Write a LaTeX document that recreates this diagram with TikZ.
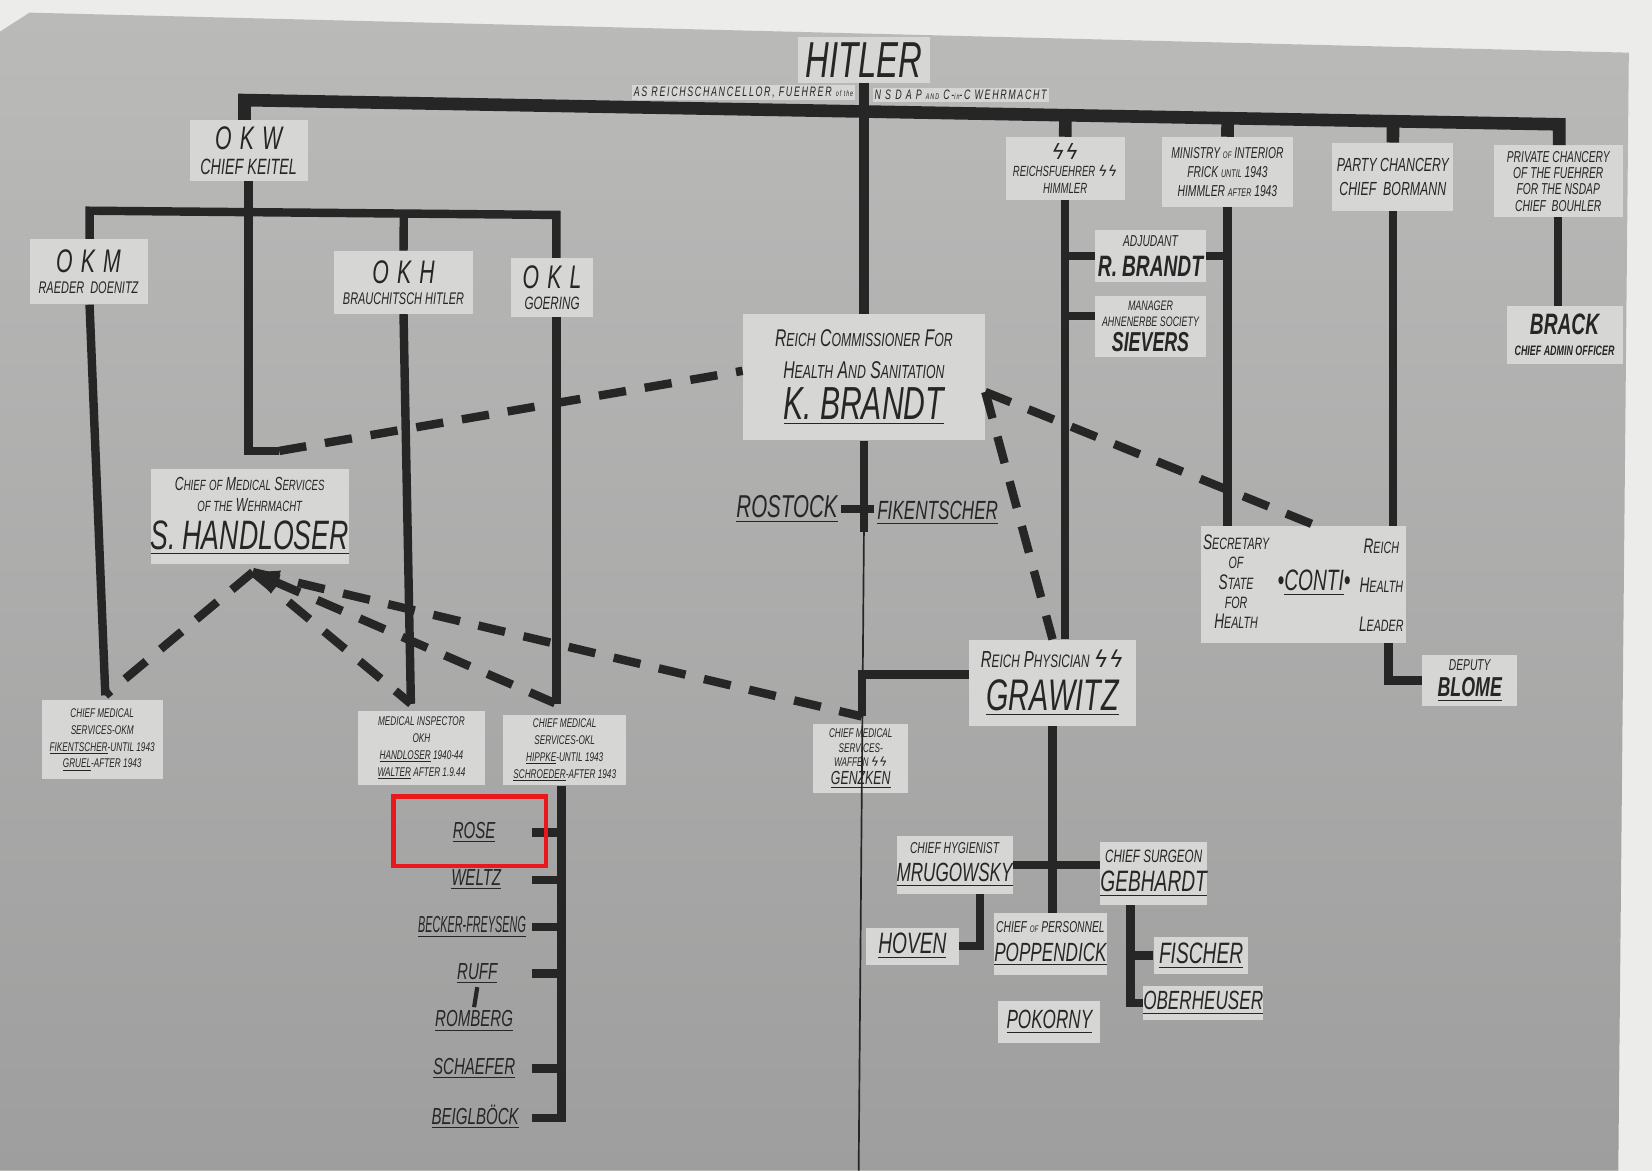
\documentclass[tikz,border=0pt]{standalone}
\usepackage{amsmath}
\usepackage{graphicx}
\usepackage{fontspec}
\usepackage{tikz}
\usetikzlibrary{calc,arrows.meta}
\setmainfont{Liberation Sans}
\newfontfamily\hand[FakeStretch=0.65]{Liberation Sans}
\newfontfamily\runes{DejaVu Sans}
\newcommand{\hw}[2]{\hand\itshape\fontsize{#1}{#2}\selectfont}
\newcommand{\capsm}[2]{#1\scalebox{0.78}{#2}}
\newcommand{\SSr}{{\runes ϟϟ}}
\definecolor{margin}{RGB}{236,236,234}
\definecolor{sheetA}{RGB}{186,186,185}
\definecolor{sheetB}{RGB}{158,158,158}
\definecolor{paper}{RGB}{214,214,212}
\definecolor{ink}{RGB}{38,38,38}
\definecolor{mark}{RGB}{232,24,28}
\begin{document}
\begin{tikzpicture}[x=1pt,y=-1pt]
	\tikzstyle{every node}+=[inner sep=0pt, text=ink]
	\tikzstyle{patch}=[fill=paper, align=center]
	\tikzstyle{plain}=[align=center, inner sep=3pt]
	\tikzstyle{bar}=[draw=ink, line width=8pt]
	\tikzstyle{topbar}=[draw=ink, line width=12pt]
	\tikzstyle{dashbar}=[draw=ink, line width=8pt, dash pattern=on 26pt off 18pt]
	\useasboundingbox (0,0) rectangle (1568,1111);
	\fill [margin] (0,0) rectangle (1568,1111);
	\shade [top color=sheetA, bottom color=sheetB] (28,12) -- (1546,50) -- (1536,1111) -- (0,1111) -- (0,30) -- cycle;
	\node [patch, minimum width=125pt, minimum height=44pt, font=\hw{48}{48}] (hitler) at (820,57) {HITLER};
	\node [patch, inner sep=2pt, anchor=east, font=\hw{13}{13}\addfontfeature{LetterSpace=12}] (roleL) at (812,88) {AS REICHSCHANCELLOR, FUEHRER \scalebox{.6}{of the}};
	\node [patch, inner sep=2pt, anchor=west, font=\hw{13}{13}\addfontfeature{LetterSpace=12}] (roleR) at (828,90) {N S D A P \scalebox{.6}{AND} C-\scalebox{.6}{in}-C WEHRMACHT};
	\node [patch, minimum width=112pt, minimum height=58pt, font=\hw{21}{24}] (okw) at (236,143) {{\hw{31}{31}\addfontfeature{LetterSpace=25}OKW}\\CHIEF KEITEL};
	\node [patch, minimum width=112pt, minimum height=62pt, font=\hw{16}{20}] (okm) at (84,258) {{\hw{31}{31}\addfontfeature{LetterSpace=25}OKM}\\RAEDER\ \ DOENITZ};
	\node [patch, minimum width=132pt, minimum height=60pt, font=\hw{16}{20}] (okh) at (383,268) {{\hw{31}{31}\addfontfeature{LetterSpace=25}OKH}\\BRAUCHITSCH HITLER};
	\node [patch, minimum width=78pt, minimum height=56pt, font=\hw{17}{20}] (okl) at (524,273) {{\hw{31}{31}\addfontfeature{LetterSpace=25}OKL}\\GOERING};
	\node [patch, minimum width=230pt, minimum height=120pt, font=\hw{23}{30}] (kbrandt) at (820,358) {\capsm{R}{EICH} \capsm{C}{OMMISSIONER} \capsm{F}{OR}\\\capsm{H}{EALTH} \capsm{A}{ND} \capsm{S}{ANITATION}\\[8pt]{\hw{44}{44}\underline{K.\,BRANDT}}};
	\node [plain, font=\hw{30}{30}] (rostock) at (747,483) {\underline{ROSTOCK}};
	\node [plain, font=\hw{25}{25}] (fikentscher) at (890,487) {\underline{FIKENTSCHER}};
	\node [patch, minimum width=185pt, minimum height=90pt, font=\hw{18}{20}] (handloser) at (237,490) {\capsm{C}{HIEF} \capsm{}{OF} \capsm{M}{EDICAL} \capsm{S}{ERVICES}\\\capsm{}{OF THE} \capsm{W}{EHRMACHT}\\[8pt]{\hw{39}{39}\underline{S.\,HANDLOSER}}};
	\node [patch, minimum width=113pt, minimum height=60pt, font=\hw{14}{16}] (ss) at (1011,160) {{\hw{20}{20}\SSr}\\REICHSFUEHRER \SSr\\HIMMLER};
	\node [patch, minimum width=125pt, minimum height=66pt, font=\hw{15}{18}] (interior) at (1165,163) {MINISTRY \scalebox{.6}{OF} INTERIOR\\FRICK \scalebox{.7}{UNTIL} 1943\\HIMMLER \scalebox{.7}{AFTER} 1943};
	\node [patch, minimum width=115pt, minimum height=65pt, font=\hw{18}{23}] (bormann) at (1322,168) {PARTY CHANCERY\\CHIEF\ \ BORMANN};
	\node [patch, minimum width=122pt, minimum height=68pt, font=\hw{15}{15.5}] (bouhler) at (1479,172) {PRIVATE CHANCERY\\OF THE FUEHRER\\FOR THE NSDAP\\CHIEF\ \ BOUHLER};
	\node [patch, minimum width=105pt, minimum height=50pt, font=\hw{15}{25}] (rbrandt) at (1092,243) {ADJUDANT\\[3pt]{\hw{28}{28}\bfseries R.\,BRANDT}};
	\node [patch, minimum width=105pt, minimum height=58pt, font=\hw{13}{15}] (sievers) at (1092,310) {MANAGER\\AHNENERBE SOCIETY\\[5pt]{\hw{26}{26}\bfseries SIEVERS}};
	\node [patch, minimum width=110pt, minimum height=55pt, font=\hw{13}{20}] (brack) at (1485,318) {{\hw{28}{28}\bfseries BRACK}\\\bfseries CHIEF ADMIN OFFICER};
	\node [patch, minimum width=195pt, minimum height=100pt] (conti) at (1237,555) {\begin{tabular}{@{}c@{\hspace{8pt}}c@{\hspace{8pt}}c@{}}
		\hw{20}{18}\begin{tabular}{@{}c@{}}\capsm{S}{ECRETARY}\\\capsm{}{OF}\\\capsm{S}{TATE}\\\capsm{}{FOR}\\\capsm{H}{EALTH}\end{tabular} &
		\hw{28}{28}•\underline{CONTI}• &
		\hw{20}{37}\begin{tabular}{@{}c@{}}\capsm{R}{EICH}\\\capsm{H}{EALTH}\\\capsm{L}{EADER}\end{tabular}
		\end{tabular}};
	\node [patch, minimum width=90pt, minimum height=48pt, font=\hw{15}{18}] (blome) at (1395,646) {DEPUTY\\[5pt]{\hw{26}{26}\bfseries\underline{BLOME}}};
	\node [patch, minimum width=158pt, minimum height=82pt, font=\hw{22}{28}] (grawitz) at (999,648) {\capsm{R}{EICH} \capsm{P}{HYSICIAN} \SSr\\[10pt]{\hw{42}{42}\underline{GRAWITZ}}};
	\node [patch, minimum width=103pt, minimum height=55pt, font=\hw{15}{22}] (mrugowsky) at (906,821) {CHIEF HYGIENIST\\[5pt]{\hw{25}{25}\underline{MRUGOWSKY}}};
	\node [patch, minimum width=88pt, minimum height=35pt, font=\hw{28}{28}] (hoven) at (866,898) {\underline{HOVEN}};
	\node [patch, minimum width=105pt, minimum height=59pt, font=\hw{15}{22}] (poppendick) at (997,896) {CHIEF \scalebox{.6}{OF} PERSONNEL\\[5pt]{\hw{25}{25}\underline{POPPENDICK}}};
	\node [patch, minimum width=97pt, minimum height=40pt, font=\hw{25}{25}] (pokorny) at (996,970) {\underline{POKORNY}};
	\node [patch, minimum width=100pt, minimum height=60pt, font=\hw{17}{22}] (gebhardt) at (1095,829) {CHIEF SURGEON\\[5pt]{\hw{28}{28}\underline{GEBHARDT}}};
	\node [patch, minimum width=90pt, minimum height=35pt, font=\hw{28}{28}] (fischer) at (1140,907) {\underline{FISCHER}};
	\node [patch, minimum width=105pt, minimum height=33pt, font=\hw{25}{25}] (oberheuser) at (1142,952) {\underline{OBERHEUSER}};
	\node [patch, minimum width=115pt, minimum height=75pt, font=\hw{12}{16}] (okmmed) at (97,702) {CHIEF MEDICAL\\SERVICES-OKM\\\underline{FIKENTSCHER}-UNTIL 1943\\\underline{GRUEL}-AFTER 1943};
	\node [patch, minimum width=120pt, minimum height=70pt, font=\hw{12}{16}] (okhmed) at (400,710) {MEDICAL INSPECTOR\\OKH\\\underline{HANDLOSER} 1940-44\\\underline{WALTER} AFTER 1.9.44};
	\node [patch, minimum width=117pt, minimum height=67pt, font=\hw{12}{16}] (oklmed) at (536,712) {CHIEF MEDICAL\\SERVICES-OKL\\\underline{HIPPKE}-UNTIL 1943\\\underline{SCHROEDER}-AFTER 1943};
	\node [patch, minimum width=90pt, minimum height=66pt, font=\hw{12}{14}] (genzken) at (817,720) {CHIEF MEDICAL\\SERVICES-\\WAFFEN \SSr\\[3pt]{\hw{18}{18}\underline{GENZKEN}}};
	\node [plain, font=\hw{22}{22}] (rose) at (450,790) {\underline{ROSE}};
	\node [plain, font=\hw{22}{22}] (weltz) at (452,835) {\underline{WELTZ}};
	\node [plain, font=\hw{22}{22}] (becker) at (448,880) {\scalebox{0.72}[1]{\underline{BECKER-FREYSENG}}};
	\node [plain, font=\hw{22}{22}] (ruff) at (453,924) {\underline{RUFF}};
	\node [plain, font=\hw{22}{22}] (romberg) at (450,969) {\underline{ROMBERG}};
	\node [plain, font=\hw{22}{22}] (schaefer) at (450,1014) {\underline{SCHAEFER}};
	\node [plain, font=\hw{22}{22}] (beiglbock) at (451,1060) {\underline{BEIGLBÖCK}};
	\coordinate (busL) at (232,95);
	\coordinate (busR) at (1480,118);
	\coordinate (milL) at (85,200);
	\coordinate (milR) at (528,204);
	\coordinate (okwend) at (265,428);
	\coordinate (okmfoot) at (100,660);
	\coordinate (okhfoot) at (390,668);
	\coordinate (oklfoot) at (528,668);
	\coordinate (gzfoot) at (818,680);
	\coordinate (hstip) at (240,543);
	\coordinate (kbfoot) at (820,505);
	\coordinate (gutbot) at (815,1111);
	\coordinate (surgbot) at (533,1061);
	\draw [ink, line width=1.6pt] (kbfoot) -- (gutbot);
	\draw [topbar] (okw.north -| busL) -- (busL) -- (busR) -- (bouhler.north -| busR);
	\draw [topbar] (ss.north) -- ($(busL)!(ss.north)!(busR)$);
	\draw [topbar] (interior.north) -- ($(busL)!(interior.north)!(busR)$);
	\draw [topbar] (bormann.north) -- ($(busL)!(bormann.north)!(busR)$);
	\draw [bar, line width=10pt] (hitler.south) -- (kbrandt.north);
	\draw [bar] (okw.south) |- (okwend);
	\draw [bar] (okm.north -| milL) -- (milL) -- (milR) -- (okl.north -| milR);
	\draw [bar] (okh.north) -- ($(milL)!(okh.north)!(milR)$);
	\draw [bar] (okm.south -| milL) -- (okmfoot);
	\draw [bar] (okh.south) -- (okhfoot);
	\draw [bar] (okl.south -| milR) -- (oklfoot);
	\draw [dashbar] (okwend) -- ([yshift=6pt]kbrandt.west);
	\draw [dashbar] (hstip) -- (okmfoot);
	\draw [dashbar] (hstip) -- (okhfoot);
	\draw [dashbar, {Triangle[length=24pt, width=22pt]}-] (hstip) -- (oklfoot);
	\draw [dashbar] (hstip) -- (gzfoot);
	\draw [dashbar] ([yshift=-14pt]kbrandt.east) -- ([xshift=13pt]conti.north);
	\draw [dashbar] ([yshift=-14pt]kbrandt.east) -- (grawitz.north);
	\draw [bar] (kbrandt.south) -- (kbfoot);
	\draw [bar] (rostock.east) -- (rostock.east -| fikentscher.west);
	\draw [bar] (ss.south) -- (ss.south |- grawitz.north);
	\draw [bar] (ss.south |- rbrandt.west) -- (rbrandt.west);
	\draw [bar] (ss.south |- sievers.west) ++(0,-10) -- ([yshift=10pt]sievers.west);
	\draw [bar] (interior.south) -- (interior.south |- conti.north);
	\draw [bar] (rbrandt.east) -- (rbrandt.east -| interior.south);
	\draw [bar] (bormann.south) -- (bormann.south |- conti.north);
	\draw [bar] (bouhler.south) -- (bouhler.south |- brack.north);
	\draw [bar] ([xshift=81pt]conti.south) |- (blome.west);
	\draw [bar] (grawitz.south) -- (grawitz.south |- poppendick.north);
	\draw [bar] (mrugowsky.east) -- (mrugowsky.east -| gebhardt.west);
	\draw [bar] ([xshift=24pt]mrugowsky.south) |- (hoven.east);
	\draw [bar] ([yshift=8pt]grawitz.west) -| (gzfoot);
	\draw [bar] ([xshift=-22pt]gebhardt.south) coordinate (gbtop) |- (oberheuser.west);
	\draw [bar] (fischer.west) -- (fischer.west -| gbtop);
	\draw [bar] (oklmed.south -| surgbot) -- (surgbot) -- ++(-28,0);
	\foreach \n in {rose,weltz,becker,ruff,schaefer}
		\draw [bar] (surgbot |- \n) -- ++(-28,0);
	\draw [ink, line width=4pt] (ruff.south) -- (romberg.north);
	\node [draw=mark, line width=4pt, minimum width=145pt, minimum height=66pt] (focus) at (446,789) {};
\end{tikzpicture}
\end{document}
